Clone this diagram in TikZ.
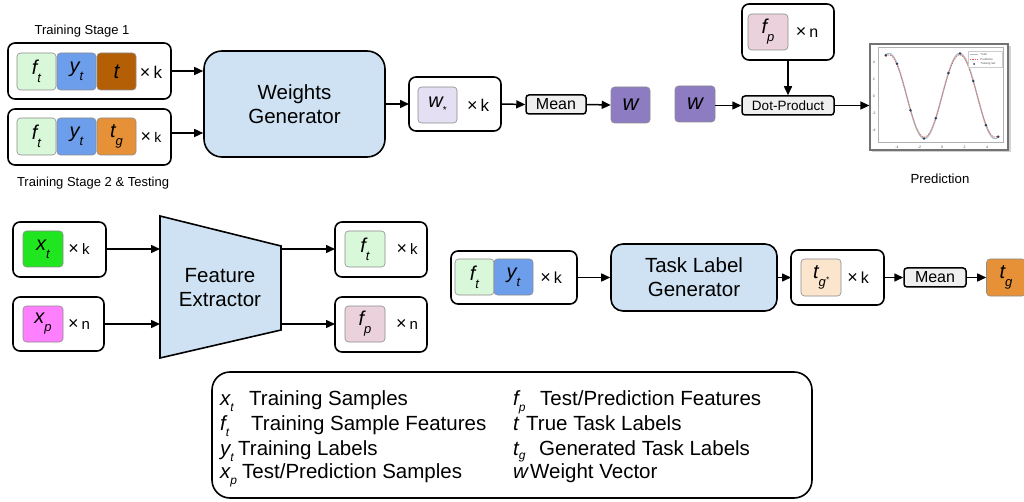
\documentclass[tikz,border=0pt]{standalone}
\usepackage{fontspec}
\setmainfont{Liberation Sans}
\usetikzlibrary{arrows.meta}

\definecolor{ftc}{HTML}{D9F8D9}
\definecolor{ytc}{HTML}{6D9EEB}
\definecolor{tc}{HTML}{B45F06}
\definecolor{tgc}{HTML}{E69138}
\definecolor{xtc}{HTML}{1FE61F}
\definecolor{xpc}{HTML}{FF80FF}
\definecolor{fpc}{HTML}{EAD1DC}
\definecolor{wsc}{HTML}{E4DFF2}
\definecolor{wc}{HTML}{8E7CC3}
\definecolor{tgsc}{HTML}{FCE5CD}
\definecolor{opgray}{HTML}{EFEFEF}
\definecolor{blockblue}{HTML}{CFE2F3}
\definecolor{truthcol}{HTML}{AEBBC8}
\definecolor{predcol}{HTML}{E8604C}
\definecolor{dotcol}{HTML}{2E3F5C}

% symbol with a lowered subscript, as used inside the coloured cells
\newcommand\symb[2]{{\fontsize{20}{20}\selectfont\itshape #1}\raisebox{-8pt}{\fontsize{13}{13}\selectfont\itshape #2}}
% symbol with a lowered subscript, as used in the key
\newcommand\lsym[3][-6pt]{{\itshape #2}\raisebox{#1}{\fontsize{12}{12}\selectfont\itshape #3}}
% multiplicity label: a large times sign followed by the count letter
\newcommand\mult[2][15]{×\,{\fontsize{#1}{#1}\selectfont #2}}

\tikzset{
  outerbox/.style={draw, line width=1.6pt, rounded corners=7pt, fill=white, inner sep=0pt, outer sep=0pt},
  cell/.style={draw=black!45, line width=0.6pt, rounded corners=3.5pt, inner sep=0pt, minimum width=39pt, minimum height=37pt},
  bigblock/.style={draw, line width=1.6pt, fill=blockblue, align=center, font=\fontsize{20.5}{24}\selectfont, inner sep=0pt},
  opbox/.style={draw, line width=1.5pt, rounded corners=3pt, fill=opgray, inner sep=0pt, minimum height=19pt},
  times/.style={font=\fontsize{18}{18}\selectfont, inner sep=0pt},
  conn/.style={line width=1.5pt, -{Triangle[length=9pt,width=8pt]}},
  caption/.style={font=\fontsize{13}{15}\selectfont, inner sep=0pt},
  lgd/.style={anchor=base west, inner sep=0pt, font=\fontsize{20.5}{20.5}\selectfont},
  ticklbl/.style={font=\fontsize{3.5}{4}\selectfont, inner sep=0pt, text=black!70},
  plotkey/.style={font=\fontsize{2.8}{3}\selectfont, inner sep=0pt, anchor=west, text=black!70}
}

\begin{document}
\begin{tikzpicture}[x=1pt,y=-1pt]
\useasboundingbox (0,0) rectangle (1024,502);

% ---------- weights generator stage ----------
\node[caption] (cap1) at (82,31) {Training Stage 1};
\node[caption] (cap2) at (93,183) {Training Stage 2 \& Testing};

\node[outerbox, minimum width=163pt, minimum height=56pt] (b1) at (89.5,71) {};
\node[cell, fill=ftc] (b1f) at (36.5,71.5) {\symb{f}{t}};
\node[cell, fill=ytc] (b1y) at (76.5,71.5) {\symb{y}{t}};
\node[cell, fill=tc] (b1t) at (116.5,71.5) {{\fontsize{21}{21}\selectfont\itshape t}};
\node[times] (b1k) at (151,72) {\mult[17]{k}};

\node[outerbox, minimum width=163pt, minimum height=56pt] (b2) at (89.5,137) {};
\node[cell, fill=ftc] (b2f) at (36.5,136.5) {\symb{f}{t}};
\node[cell, fill=ytc] (b2y) at (76.5,136.5) {\symb{y}{t}};
\node[cell, fill=tgc] (b2t) at (116.5,136.5) {\symb{t}{g}};
\node[times] (b2k) at (151,137) {\mult[14]{k}};

\node[bigblock, rounded corners=18pt, minimum width=181pt, minimum height=106pt] (wg) at (294.5,104) {Weights\\Generator};

\draw[conn] (b1.east) -- (b1.east -| wg.west);
\draw[conn] ([yshift=4pt]b2.east) -- ([yshift=4pt]b2.east -| wg.west);

\node[outerbox, minimum width=92pt, minimum height=54pt] (wbox) at (455,104) {};
\node[cell, fill=wsc, minimum height=36pt] (ws) at (437.5,105) {{\fontsize{20}{20}\selectfont\itshape w}\raisebox{-6pt}{\fontsize{10}{10}\selectfont *}};
\node[times] (wk) at (478,105) {\mult[17]{k}};

\node[opbox, minimum width=60pt, font=\fontsize{16}{16}\selectfont] (mean1) at (556,104.5) {Mean};
\node[cell, fill=wc, minimum height=36pt] (w1) at (630.5,105) {{\fontsize{22}{22}\selectfont\itshape w}};

\draw[conn] (wg.east |- wbox.west) -- (wbox.west);
\draw[conn] (wbox.east) -- (mean1.west);
\draw[conn] (mean1.east) -- (w1.west);

% ---------- prediction ----------
\node[cell, fill=wc, minimum width=40pt, minimum height=36pt] (w2) at (695,104) {{\fontsize{22}{22}\selectfont\itshape w}};
\node[outerbox, minimum width=92pt, minimum height=56pt] (fpbox) at (788,32) {};
\node[cell, fill=fpc, minimum width=40pt, minimum height=36pt] (fp1) at (768,32) {\symb{f}{p}};
\node[times] (fpk) at (807,32) {\mult[16]{n}};
\node[opbox, minimum width=92pt, font=\fontsize{13.5}{14}\selectfont] (dp) at (788,105.5) {Dot-Product};

\draw[conn] (fpbox.south) -- (dp.north);
\draw[conn] (w2.east |- dp.west) -- (dp.west);

% plot of the prediction
\fill[black!18] (871.5,46.5) rectangle (1010.5,152.5);
\node[draw=black!55, line width=1.2pt, fill=white, minimum width=138pt, minimum height=106pt, inner sep=0pt] (plot) at (939,97) {};
\draw[conn] (dp.east) -- (dp.east -| plot.west);
\node[caption, font=\fontsize{13.2}{15}\selectfont] (predcap) at (940,179) {Prediction};

\begin{scope}[shift={(942,96)}, x=11.25pt, y=8.5pt]
  \draw[black!30, line width=0.4pt] (-5.69,-5.41) rectangle (5.42,5.76);
  \foreach \t in {-4,-2,0,2,4} {
    \node[ticklbl] (xt\t) at (\t,-6.0) {\t};
    \node[ticklbl] (yt\t) at (-6.05,\t) {\t};
  }
  \draw[truthcol, line width=1.4pt, domain=-5:5, samples=120, smooth] plot (\x, {5*sin(\x r)});
  \draw[predcol, line width=0.55pt, dash pattern=on 1.6pt off 0.9pt, domain=-5:5, samples=120, smooth] plot (\x, {4.82*sin(\x r)});
  \foreach \p in {-5,-4,-2.8,-1.6,-0.55,0.57,1.6,2.78,3.9,5}
    \fill[dotcol] (\p,{5*sin(\p r)}) circle (1.4pt);
  \draw[black!20, line width=0.3pt, fill=white, fill opacity=0.8] (2.31,3.41) rectangle (5.33,5.29);
  \draw[truthcol, line width=0.8pt] (2.5,4.94) -- (3.2,4.94);
  \draw[predcol, line width=0.5pt, dash pattern=on 1pt off 0.6pt] (2.5,4.35) -- (3.2,4.35);
  \fill[dotcol] (2.85,3.76) circle (1pt);
  \node[plotkey] (kt) at (3.4,4.94) {Truth};
  \node[plotkey] (kp) at (3.4,4.35) {Prediction};
  \node[plotkey] (ks) at (3.4,3.76) {Training Set};
\end{scope}

% ---------- feature extractor ----------
\node[outerbox, minimum width=93pt, minimum height=55pt] (xtbox) at (59.5,249.5) {};
\node[cell, fill=xtc, minimum width=40pt, minimum height=36pt] (xt) at (43,249) {\symb{x}{t}};
\node[times] (xtk) at (79,249) {\mult{k}};

\node[outerbox, minimum width=91pt, minimum height=54pt] (xpbox) at (58.5,324) {};
\node[cell, fill=xpc, minimum width=40pt, minimum height=36pt] (xp) at (43,324) {\symb{x}{p}};
\node[times] (xpk) at (79,324) {\mult{n}};

\coordinate (fe1) at (160,216);
\coordinate (fe2) at (281,246);
\coordinate (fe3) at (281,330);
\coordinate (fe4) at (160,358);
\draw[line width=1.6pt, fill=blockblue] (fe1) -- (fe2) -- (fe3) -- (fe4) -- cycle;
\node[align=center, font=\fontsize{20.5}{24}\selectfont, inner sep=0pt] (fe) at (220,288) {Feature\\Extractor};

\node[outerbox, minimum width=92pt, minimum height=55pt] (ftout) at (381,249.5) {};
\node[cell, fill=ftc, minimum width=40pt, minimum height=36pt] (ft2) at (365,249) {\symb{f}{t}};
\node[times] (ftk) at (407,249) {\mult{k}};

\node[outerbox, minimum width=92pt, minimum height=55pt] (fpout) at (381,324.5) {};
\node[cell, fill=fpc, minimum width=40pt, minimum height=36pt] (fp2) at (365,324) {\symb{f}{p}};
\node[times] (fpk2) at (407,324) {\mult{n}};

\draw[conn] (xtbox.east |- xt.east) -- (xt.east -| fe1);
\draw[conn] (xpbox.east |- xp.east) -- (xp.east -| fe1);
\draw[conn] (fe2 |- ft2.east) -- (ftout.west |- ft2.east);
\draw[conn] (fe3 |- fp2.east) -- (fpout.west |- fp2.east);

% ---------- task label generator ----------
\node[outerbox, minimum width=126pt, minimum height=53pt] (fybox) at (514,277.5) {};
\node[cell, fill=ftc, minimum height=36pt] (ft3) at (474.5,277) {\symb{f}{t}};
\node[cell, fill=ytc, minimum height=36pt] (yt3) at (513.5,277) {\symb{y}{t}};
\node[times] (fyk) at (551,278) {\mult[16]{k}};

\node[bigblock, rounded corners=12pt, minimum width=166pt, minimum height=67pt] (tlg) at (694,277.5) {Task Label\\Generator};

\node[outerbox, minimum width=93pt, minimum height=55pt] (tgbox) at (837.5,277.5) {};
\node[cell, fill=tgsc, minimum width=40pt] (tgs) at (821,277.5) {\symb{t}{g\raisebox{4pt}{\fontsize{8}{8}\selectfont *}}};
\node[times] (tgk) at (858,278) {\mult[16]{k}};

\node[opbox, minimum width=62pt, font=\fontsize{16}{16}\selectfont] (mean2) at (935,277.5) {Mean};
\node[cell, fill=tgc, minimum width=39pt] (tg) at (1006,277.5) {\symb{t}{g}};

\draw[conn] (fybox.east) -- (tlg.west);
\draw[conn] (tlg.east) -- (tgbox.west);
\draw[conn] (tgbox.east) -- (mean2.west);
\draw[conn] (mean2.east) -- (tg.west);

% ---------- key ----------
\node[outerbox, rounded corners=18pt, minimum width=600pt, minimum height=126pt] (key) at (512,435) {};
\node[lgd] (l1) at (220,405) {\makebox[29pt][l]{\lsym{x}{t}}Training Samples};
\node[lgd] (l2) at (220,430) {\makebox[31pt][l]{\lsym{f}{t}}Training Sample Features};
\node[lgd] (l3) at (220,455) {\makebox[18pt][l]{\lsym{y}{t}}Training Labels};
\node[lgd] (l4) at (220,478) {\makebox[22pt][l]{\lsym{x}{p}}Test/Prediction Samples};
\node[lgd] (r1) at (513,405) {\makebox[27pt][l]{\lsym{f}{p}}Test/Prediction Features};
\node[lgd] (r2) at (513,430) {\makebox[13pt][l]{\lsym{t}{}}True Task Labels};
\node[lgd] (r3) at (513,455) {\makebox[26pt][l]{\lsym[-4pt]{t}{g}}Generated Task Labels};
\node[lgd] (r4) at (513,478) {\makebox[17pt][l]{\lsym{w}{}}Weight Vector};

\end{tikzpicture}
\end{document}
